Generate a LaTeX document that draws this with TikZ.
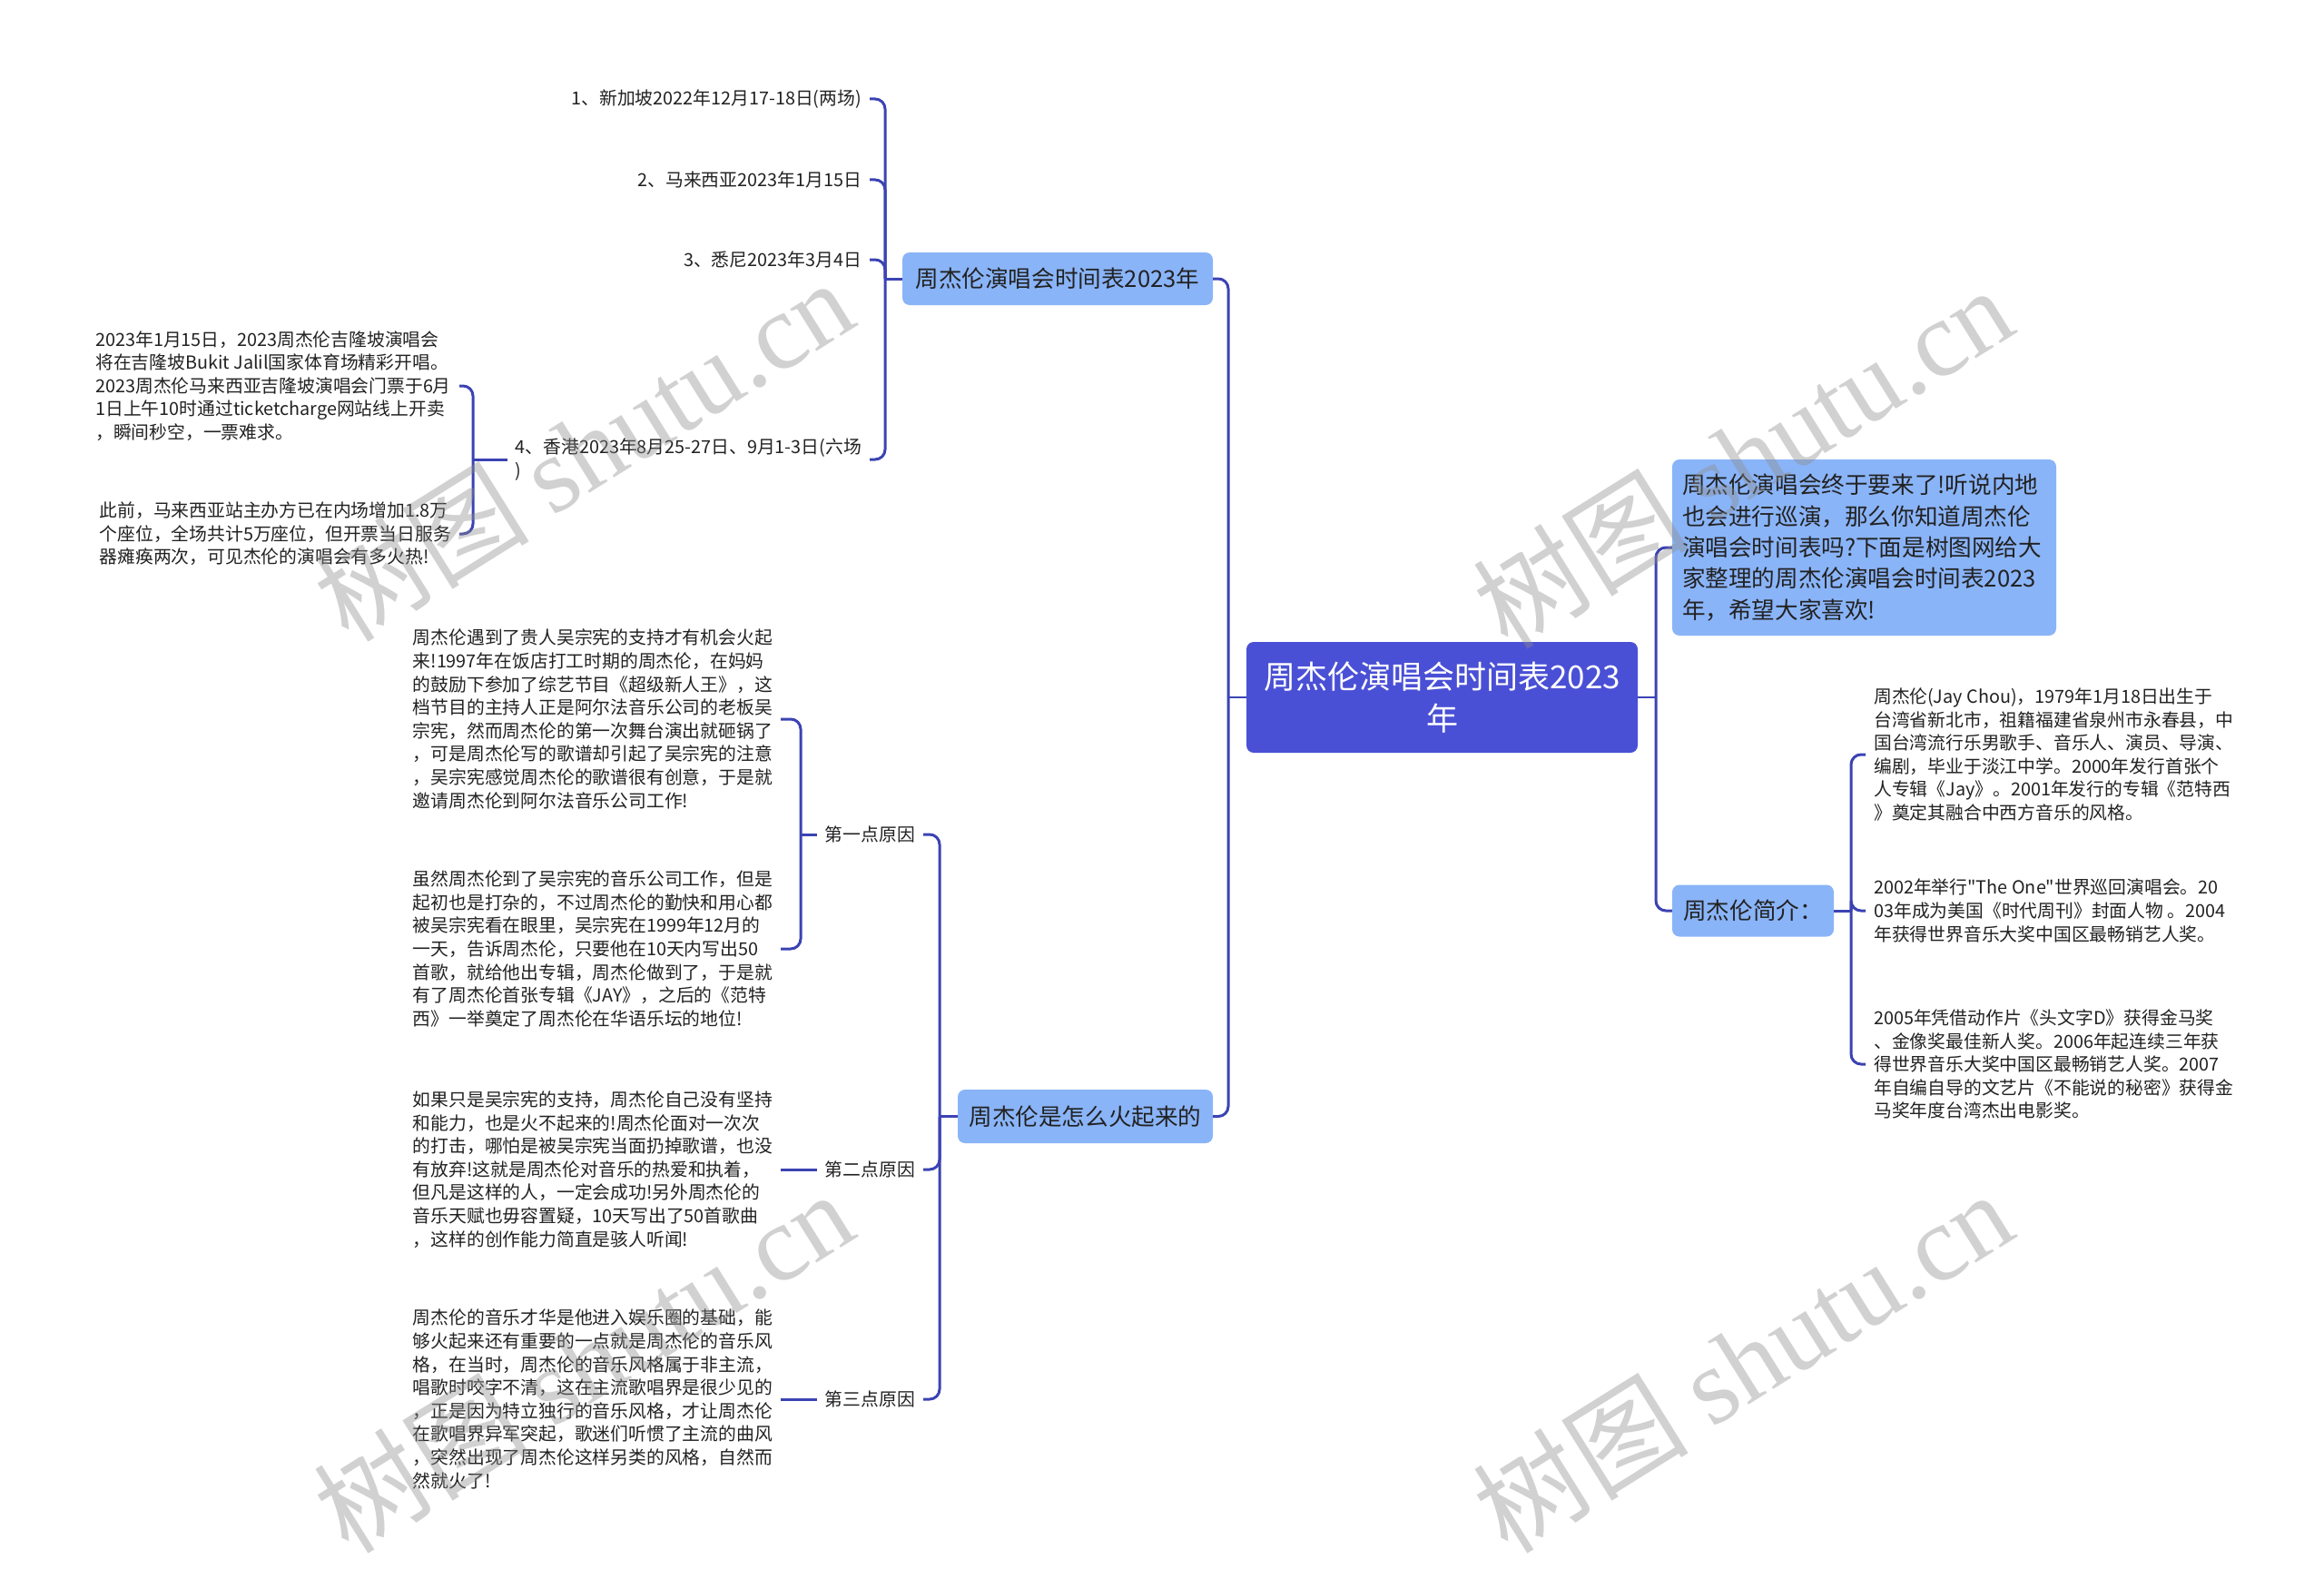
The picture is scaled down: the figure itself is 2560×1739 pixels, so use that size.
\documentclass[tikz,border=0pt]{standalone}
\usepackage{fontspec}
\setmainfont{Noto Sans CJK SC}[Ligatures=TeXOff]
\newfontfamily\wmlatin{Liberation Serif}
\definecolor{rootc}{HTML}{4A50D5}
\definecolor{brc}{HTML}{8AB4F8}
\definecolor{linec}{HTML}{3B43B3}
\definecolor{txt}{HTML}{222222}
\definecolor{wm}{HTML}{8C8C8C}
\begin{document}
\begin{tikzpicture}[x=1pt,y=-1pt,
  conn/.style={draw=linec,line width=3pt,rounded corners=11pt},
  rootbox/.style={fill=rootc,rounded corners=8pt,text=white,font=\fontsize{35}{45.7}\selectfont,align=center,inner sep=0pt},
  brbox/.style={fill=brc,rounded corners=8pt,text=txt,font=\fontsize{25.6}{34.3}\selectfont,inner sep=0pt},
  leaf/.style={text=txt,font=\fontsize{19.8}{25.6}\selectfont,align=left,inner xsep=9pt,inner ysep=0pt},
  wmark/.style={text=wm,text opacity=0.4,rotate=32,font=\fontsize{119}{119}\selectfont}
]
\useasboundingbox (0,0) rectangle (2560,1739);
\fill[white] (0,0) rectangle (2560,1739);

% root and main branches
\node[rootbox,minimum width=431pt,minimum height=122pt] (root) at (1588.5,768) {周杰伦演唱会时间表2023\\年};
\node[brbox,minimum width=342pt,minimum height=58pt] (b1) at (1165,307) {周杰伦演唱会时间表2023年};
\node[brbox,minimum width=281pt,minimum height=59pt] (b2) at (1195.5,1229.5) {周杰伦是怎么火起来的};
\node[brbox,text width=401pt,inner xsep=11pt,minimum height=194pt,align=left] (intro) at (2053.5,603) {周杰伦演唱会终于要来了!听说内地\\也会进行巡演，那么你知道周杰伦\\演唱会时间表吗?下面是树图网给大\\家整理的周杰伦演唱会时间表2023\\年，希望大家喜欢!};
\node[brbox,minimum width=178pt,minimum height=57pt] (jj) at (1931,1003) {周杰伦简介：};

\coordinate (jl) at (1353,768);
\coordinate (jr) at (1824,768);
\draw[conn,line width=2.5pt] (root.west) -- (jl);
\draw[conn] (jl) |- (b1.east);
\draw[conn] (jl) |- (b2.east);
\draw[conn,line width=2.5pt] (root.east) -- (jr);
\draw[conn] (jr) |- (intro.west);
\draw[conn] (jr) |- (jj.west);

% branch 1 leaves
\node[leaf,anchor=east] (l1) at (958,109) {1、新加坡2022年12月17-18日(两场)};
\node[leaf,anchor=east] (l2) at (958,198) {2、马来西亚2023年1月15日};
\node[leaf,anchor=east] (l3) at (958,286) {3、悉尼2023年3月4日};
\node[leaf,anchor=east] (l4) at (958,506) {4、香港2023年8月25-27日、9月1-3日(六场\\)};
\coordinate (j1) at (975,307);
\draw[conn] (b1.west) -- (j1);
\draw[conn] (j1) |- (l1.east);
\draw[conn] (j1) |- (l2.east);
\draw[conn] (j1) |- (l3.east);
\draw[conn] (j1) |- (l4.east);

\node[leaf,anchor=east] (s1) at (506,425) {2023年1月15日，2023周杰伦吉隆坡演唱会\\将在吉隆坡Bukit Jalil国家体育场精彩开唱。\\2023周杰伦马来西亚吉隆坡演唱会门票于6月\\1日上午10时通过ticketcharge网站线上开卖\\，瞬间秒空，一票难求。};
\node[leaf,anchor=east] (s2) at (506,588) {此前，马来西亚站主办方已在内场增加1.8万\\个座位，全场共计5万座位，但开票当日服务\\器瘫痪两次，可见杰伦的演唱会有多火热!};
\coordinate (j4) at (521,506);
\draw[conn] (l4.west) -- (j4);
\draw[conn] (j4) |- (s1.east);
\draw[conn] (j4) |- (s2.east);

% branch 2
\node[leaf,anchor=east] (r1) at (1017,919) {第一点原因};
\node[leaf,anchor=east] (r2) at (1017,1288) {第二点原因};
\node[leaf,anchor=east] (r3) at (1017,1541) {第三点原因};
\coordinate (j2) at (1035,1229.5);
\draw[conn] (b2.west) -- (j2);
\draw[conn] (j2) |- (r1.east);
\draw[conn] (j2) |- (r2.east);
\draw[conn] (j2) |- (r3.east);

\node[leaf,anchor=east] (t1) at (860,792) {周杰伦遇到了贵人吴宗宪的支持才有机会火起\\来!1997年在饭店打工时期的周杰伦，在妈妈\\的鼓励下参加了综艺节目《超级新人王》，这\\档节目的主持人正是阿尔法音乐公司的老板吴\\宗宪，然而周杰伦的第一次舞台演出就砸锅了\\，可是周杰伦写的歌谱却引起了吴宗宪的注意\\，吴宗宪感觉周杰伦的歌谱很有创意，于是就\\邀请周杰伦到阿尔法音乐公司工作!};
\node[leaf,anchor=east] (t2) at (860,1045) {虽然周杰伦到了吴宗宪的音乐公司工作，但是\\起初也是打杂的，不过周杰伦的勤快和用心都\\被吴宗宪看在眼里，吴宗宪在1999年12月的\\一天，告诉周杰伦，只要他在10天内写出50\\首歌，就给他出专辑，周杰伦做到了，于是就\\有了周杰伦首张专辑《JAY》，之后的《范特\\西》一举奠定了周杰伦在华语乐坛的地位!};
\node[leaf,anchor=east] (t3) at (860,1288) {如果只是吴宗宪的支持，周杰伦自己没有坚持\\和能力，也是火不起来的!周杰伦面对一次次\\的打击，哪怕是被吴宗宪当面扔掉歌谱，也没\\有放弃!这就是周杰伦对音乐的热爱和执着，\\但凡是这样的人，一定会成功!另外周杰伦的\\音乐天赋也毋容置疑，10天写出了50首歌曲\\，这样的创作能力简直是骇人听闻!};
\node[leaf,anchor=east] (t4) at (860,1541) {周杰伦的音乐才华是他进入娱乐圈的基础，能\\够火起来还有重要的一点就是周杰伦的音乐风\\格，在当时，周杰伦的音乐风格属于非主流，\\唱歌时咬字不清，这在主流歌唱界是很少见的\\，正是因为特立独行的音乐风格，才让周杰伦\\在歌唱界异军突起，歌迷们听惯了主流的曲风\\，突然出现了周杰伦这样另类的风格，自然而\\然就火了!};
\coordinate (jr1) at (882,919);
\draw[conn] (r1.west) -- (jr1);
\draw[conn] (jr1) |- (t1.east);
\draw[conn] (jr1) |- (t2.east);
\draw[conn] (r2.west) -- (t3.east);
\draw[conn] (r3.west) -- (t4.east);

% right: introduction
\node[leaf,anchor=west] (p1) at (2055,831) {周杰伦(Jay Chou)，1979年1月18日出生于\\台湾省新北市，祖籍福建省泉州市永春县，中\\国台湾流行乐男歌手、音乐人、演员、导演、\\编剧，毕业于淡江中学。2000年发行首张个\\人专辑《Jay》。2001年发行的专辑《范特西\\》奠定其融合中西方音乐的风格。};
\node[leaf,anchor=west] (p2) at (2055,1003) {2002年举行"The One"世界巡回演唱会。20\\03年成为美国《时代周刊》封面人物 。2004\\年获得世界音乐大奖中国区最畅销艺人奖。};
\node[leaf,anchor=west] (p3) at (2055,1172) {2005年凭借动作片《头文字D》获得金马奖\\、金像奖最佳新人奖。2006年起连续三年获\\得世界音乐大奖中国区最畅销艺人奖。2007\\年自编自导的文艺片《不能说的秘密》获得金\\马奖年度台湾杰出电影奖。};
\coordinate (j5) at (2039,1003);
\draw[conn] (jj.east) -- (j5);
\draw[conn] (j5) |- (p1.west);
\draw[conn] (j5) |- (p2.west);
\draw[conn] (j5) |- (p3.west);

% watermarks
\node[wmark] (w1) at (642,495) {树图 {\wmlatin shutu.cn}};
\node[wmark] (w2) at (1919,503) {树图 {\wmlatin shutu.cn}};
\node[wmark] (w3) at (642,1499) {树图 {\wmlatin shutu.cn}};
\node[wmark] (w4) at (1919,1499) {树图 {\wmlatin shutu.cn}};
\end{tikzpicture}
\end{document}
